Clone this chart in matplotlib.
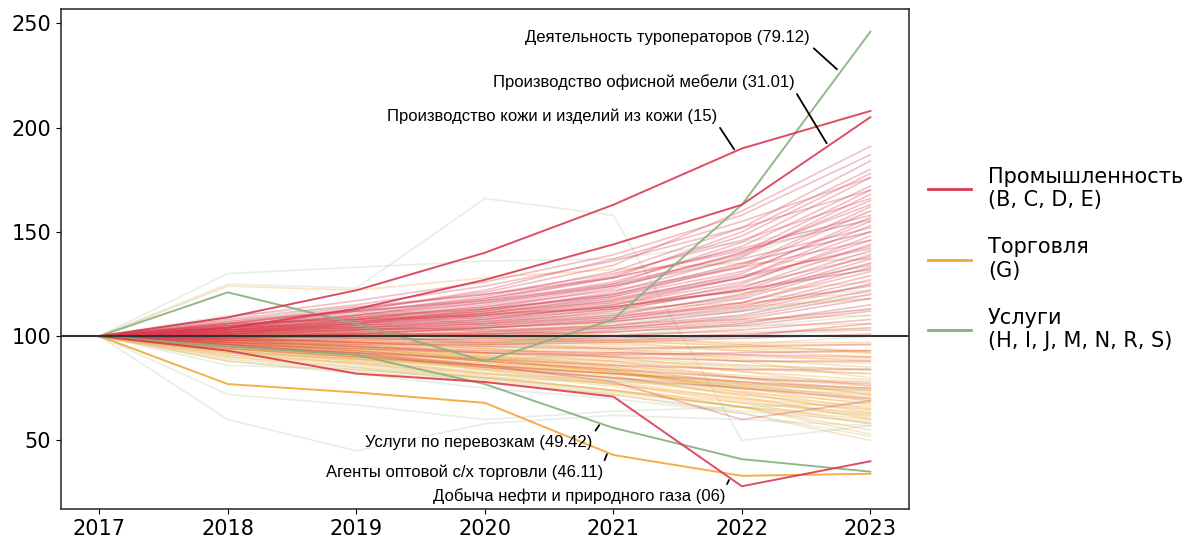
import matplotlib.pyplot as plt
from matplotlib.lines import Line2D

years = [2017, 2018, 2019, 2020, 2021, 2022, 2023]
base = 100  # индекс 2017 = 100

# Промышленность (B, C, D, E) - фоновые линии, 2018..2023
industry = [
    [106, 113, 121, 134, 160, 191],
    [105, 111, 119, 131, 152, 184],
    [104, 110, 117, 128, 150, 180],
    [107, 112, 118, 129, 148, 178],
    [103, 108, 115, 125, 145, 176],
    [105, 110, 116, 126, 143, 172],
    [104, 109, 114, 124, 140, 170],
    [102, 107, 112, 121, 138, 168],
    [106, 112, 117, 125, 139, 165],
    [103, 106, 111, 119, 134, 162],
    [104, 108, 113, 120, 133, 160],
    [102, 105, 110, 117, 130, 157],
    [105, 109, 113, 119, 131, 155],
    [101, 104, 108, 115, 128, 153],
    [103, 107, 111, 117, 128, 150],
    [102, 104, 107, 113, 125, 148],
    [104, 107, 110, 115, 126, 146],
    [100, 103, 106, 112, 123, 144],
    [103, 105, 108, 113, 122, 141],
    [101, 103, 106, 110, 120, 139],
    [102, 104, 107, 111, 119, 137],
    [99, 102, 105, 109, 118, 135],
    [101, 103, 105, 108, 116, 133],
    [103, 104, 106, 109, 116, 131],
    [100, 101, 104, 107, 114, 129],
    [102, 103, 104, 107, 113, 127],
    [99, 100, 102, 105, 112, 125],
    [101, 102, 103, 105, 110, 122],
    [98, 99, 101, 104, 109, 120],
    [100, 101, 102, 104, 108, 118],
    [99, 100, 100, 102, 106, 115],
    [101, 101, 101, 102, 105, 112],
    [98, 98, 99, 100, 103, 108],
    [100, 99, 98, 99, 101, 104],
    [97, 96, 96, 97, 99, 101],
    [99, 97, 95, 94, 95, 96],
    [96, 94, 92, 91, 92, 93],
    [98, 95, 92, 90, 88, 88],
    [95, 92, 89, 86, 84, 84],
    [97, 93, 88, 84, 80, 77],
    [108, 115, 124, 136, 152, 170],
    [104, 112, 122, 137, 155, 176],
    [101, 106, 113, 123, 140, 163],
    [106, 108, 110, 114, 122, 132],
    [102, 106, 110, 116, 128, 143],
    [94, 90, 86, 82, 78, 75],
    [96, 91, 85, 80, 75, 70],
    [104, 110, 118, 128, 142, 158],
    [103, 107, 112, 120, 135, 150],
    [96, 92, 86, 78, 60, 69],
    [107, 114, 120, 128, 141, 156],
    [105, 109, 116, 124, 137, 152],
    [103, 108, 114, 122, 133, 146],
    [102, 106, 111, 118, 129, 142],
    [104, 106, 109, 114, 124, 138],
    [101, 105, 109, 114, 122, 134],
    [99, 101, 104, 108, 115, 124],
    [100, 100, 101, 103, 107, 113],
    [98, 97, 97, 98, 100, 106],
    [97, 95, 93, 92, 91, 90],
    [109, 117, 126, 139, 158, 187],
    [106, 113, 120, 130, 146, 166],
]

# Торговля (G)
trade = [
    [98, 96, 93, 90, 86, 84],
    [97, 94, 90, 86, 81, 78],
    [99, 97, 94, 91, 88, 87],
    [96, 93, 89, 85, 80, 76],
    [98, 95, 91, 86, 80, 74],
    [95, 91, 87, 82, 76, 71],
    [97, 93, 88, 83, 76, 69],
    [94, 90, 85, 79, 72, 66],
    [96, 91, 86, 80, 72, 64],
    [93, 88, 83, 77, 69, 61],
    [95, 90, 84, 77, 68, 58],
    [92, 87, 81, 74, 66, 55],
    [100, 99, 98, 97, 96, 96],
    [101, 101, 101, 101, 102, 103],
    [99, 98, 96, 95, 93, 92],
    [102, 103, 104, 106, 108, 110],
    [103, 105, 107, 110, 114, 118],
    [104, 108, 112, 116, 121, 126],
    [100, 100, 99, 98, 97, 97],
    [97, 95, 92, 89, 85, 82],
    [98, 96, 94, 92, 90, 89],
    [96, 94, 91, 88, 83, 79],
    [94, 91, 87, 83, 78, 73],
    [99, 98, 97, 96, 94, 93],
    [101, 102, 103, 104, 105, 106],
    [93, 89, 85, 80, 73, 68],
    [95, 92, 88, 84, 78, 72],
    [91, 86, 80, 74, 66, 60],
    [97, 94, 90, 85, 77, 70],
    [90, 85, 80, 74, 68, 63],
    [105, 104, 103, 100, 96, 92],
    [98, 97, 96, 94, 91, 88],
    [96, 93, 90, 87, 84, 82],
    [103, 102, 100, 98, 95, 93],
    [92, 89, 86, 82, 77, 74],
    [89, 84, 79, 73, 66, 58],
    [94, 89, 84, 78, 70, 62],
    [124, 122, 128, 132, 135, 137],
    [99, 96, 92, 88, 80, 72],
    [100, 97, 94, 90, 83, 76],
    [97, 93, 89, 84, 74, 65],
    [95, 91, 86, 81, 71, 60],
    [98, 94, 89, 83, 73, 63],
    [93, 88, 82, 76, 66, 53],
    [96, 92, 88, 83, 75, 67],
    [101, 99, 97, 94, 89, 85],
    [102, 101, 99, 97, 93, 90],
    [94, 90, 86, 82, 75, 69],
    [91, 87, 82, 77, 70, 65],
    [99, 97, 95, 93, 88, 80],
    [106, 108, 111, 113, 116, 121],
    [88, 83, 78, 72, 63, 50],
]

# Услуги (H, I, J, M, N, R, S)
services = [
    [125, 123, 166, 158, 50, 57],
    [60, 45, 58, 62, 60, 57],
    [130, 133, 136, 137, 145, 155],
    [86, 84, 80, 78, 76, 74],
    [72, 67, 60, 64, 66, 68],
    [104, 108, 112, 118, 128, 140],
    [102, 105, 108, 114, 122, 132],
    [101, 103, 104, 107, 112, 120],
    [99, 100, 97, 100, 104, 110],
    [103, 106, 102, 106, 112, 118],
    [97, 95, 88, 92, 96, 100],
    [100, 102, 95, 100, 106, 113],
    [105, 110, 113, 120, 135, 150],
    [106, 112, 117, 124, 138, 160],
    [98, 96, 90, 88, 86, 84],
    [95, 92, 84, 80, 77, 75],
    [93, 89, 82, 79, 75, 72],
    [102, 104, 96, 103, 110, 125],
    [110, 114, 108, 112, 118, 122],
    [96, 92, 85, 82, 79, 78],
    [92, 87, 80, 74, 66, 62],
    [90, 85, 78, 72, 64, 59],
    [88, 82, 75, 70, 63, 52],
    [101, 101, 96, 98, 100, 103],
    [108, 112, 105, 110, 120, 135],
]

# Выделенные отрасли
highlights = [
    ("Деятельность туроператоров (79.12)", "services",
     [121, 106, 88, 108, 163, 246]),
    ("Производство офисной мебели (31.01)", "industry",
     [104, 113, 127, 144, 163, 205]),
    ("Производство кожи и изделий из кожи (15)", "industry",
     [109, 122, 140, 163, 190, 208]),
    ("Услуги по перевозкам (49.42)", "services",
     [95, 91, 77, 56, 41, 35]),
    ("Агенты оптовой с/х торговли (46.11)", "trade",
     [77, 73, 68, 43, 33, 34]),
    ("Добыча нефти и природного газа (06)", "industry",
     [93, 82, 78, 71, 28, 40]),
]

# позиции подписей: (x текста, y текста, x точки, y точки, relpos)
label_pos = [
    (2022.53, 243.3, 2022.74, 228.0, (1.0, 0.0)),
    (2022.41, 221.8, 2022.66, 192.5, (1.0, 0.0)),
    (2021.81, 205.5, 2021.94, 189.6, (1.0, 0.0)),
    (2020.84, 49.2, 2020.89, 57.3, (1.0, 1.0)),
    (2020.92, 34.8, 2020.95, 43.4, (1.0, 1.0)),
    (2021.87, 23.3, 2021.90, 31.0, (1.0, 1.0)),
]

colors = {"industry": "#dc3a52", "trade": "#f2a735", "services": "#84b27f"}
bg_alpha = {"industry": 0.32, "trade": 0.3, "services": 0.2}
groups = {"industry": industry, "trade": trade, "services": services}
legend_labels = {
    "industry": "Промышленность\n(B, C, D, E)",
    "trade": "Торговля\n(G)",
    "services": "Услуги\n(H, I, J, M, N, R, S)",
}

fig = plt.figure(figsize=(11.92, 5.39), dpi=100)
ax = fig.add_axes([0.051, 0.0557, 0.7115, 0.9276])

for key in ["services", "trade", "industry"]:
    for row in groups[key]:
        ax.plot(years, [base] + row, color=colors[key], alpha=bg_alpha[key], lw=1.2)

for name, key, row in highlights:
    ax.plot(years, [base] + row, color=colors[key], alpha=0.9, lw=1.4, zorder=3)

ax.axhline(100, color="#333333", lw=1.5, zorder=4)

for (name, key, row), (tx, ty, px, py, rp) in zip(highlights, label_pos):
    ax.annotate(name, xy=(px, py), xytext=(tx, ty), ha="right", va="center",
                fontsize=12, family=["Liberation Sans", "DejaVu Sans"],
                arrowprops=dict(arrowstyle="-", color="black", lw=1.3,
                                relpos=rp, shrinkA=1, shrinkB=0),
                zorder=5)

ax.set_xticks(years)
ax.tick_params(labelsize=15)
for s in ax.spines.values():
    s.set_color("#333333")
    s.set_linewidth(1.2)

handles = [Line2D([0], [0], color=colors[k], lw=2) for k in ["industry", "trade", "services"]]
ax.legend(handles, [legend_labels[k] for k in ["industry", "trade", "services"]],
          loc="center left", bbox_to_anchor=(1.0, 0.5), frameon=False,
          fontsize=15, handlelength=2.1, labelspacing=1.3)

fig.savefig("out.png", dpi=100)
